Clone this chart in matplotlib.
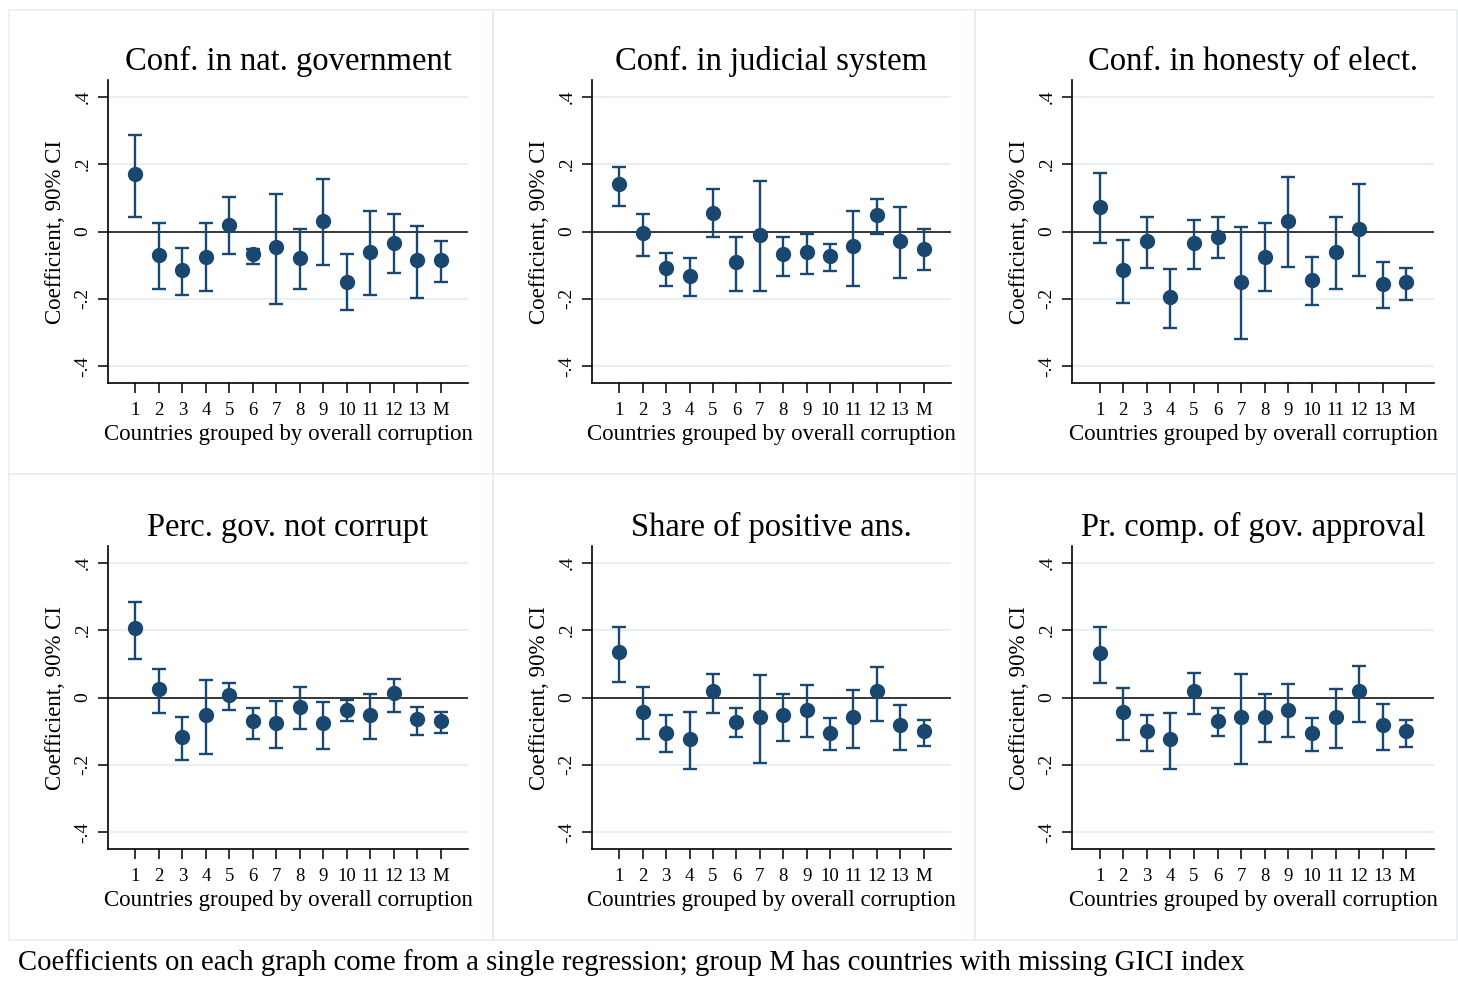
import numpy as np
import matplotlib
matplotlib.use("Agg")
import matplotlib.pyplot as plt
from matplotlib.patches import Rectangle

# groups 1..13 plus M (missing index)
groups = ["1", "2", "3", "4", "5", "6", "7", "8", "9", "10", "11", "12", "13", "M"]

titles = ["Conf. in nat. government", "Conf. in judicial system",
          "Conf. in honesty of elect.", "Perc. gov. not corrupt",
          "Share of positive ans.", "Pr. comp. of gov. approval"]

# point estimates, lower and upper 90% CI bounds
nat_gov_b = [0.171, -0.069, -0.115, -0.075, 0.020, -0.066, -0.045, -0.080, 0.031, -0.149, -0.062, -0.033, -0.086, -0.086]
nat_gov_lo = [0.044, -0.171, -0.188, -0.177, -0.068, -0.096, -0.216, -0.171, -0.100, -0.234, -0.190, -0.122, -0.198, -0.149]
nat_gov_hi = [0.287, 0.025, -0.048, 0.025, 0.101, -0.052, 0.112, 0.008, 0.157, -0.067, 0.061, 0.052, 0.015, -0.027]

judic_b = [0.141, -0.005, -0.109, -0.132, 0.055, -0.091, -0.009, -0.067, -0.062, -0.074, -0.044, 0.048, -0.027, -0.051]
judic_lo = [0.076, -0.074, -0.162, -0.193, -0.017, -0.178, -0.178, -0.131, -0.125, -0.117, -0.162, -0.008, -0.139, -0.114]
judic_hi = [0.193, 0.052, -0.063, -0.080, 0.125, -0.016, 0.149, -0.017, -0.008, -0.036, 0.062, 0.097, 0.073, 0.006]

elect_b = [0.072, -0.115, -0.027, -0.196, -0.033, -0.015, -0.149, -0.075, 0.031, -0.143, -0.062, 0.008, -0.156, -0.150]
elect_lo = [-0.033, -0.211, -0.107, -0.287, -0.112, -0.080, -0.318, -0.177, -0.104, -0.217, -0.172, -0.131, -0.228, -0.202]
elect_hi = [0.173, -0.026, 0.043, -0.110, 0.035, 0.042, 0.012, 0.025, 0.162, -0.077, 0.042, 0.141, -0.091, -0.109]

notcorr_b = [0.205, 0.024, -0.118, -0.053, 0.007, -0.071, -0.076, -0.029, -0.076, -0.036, -0.053, 0.012, -0.065, -0.071]
notcorr_lo = [0.114, -0.045, -0.185, -0.169, -0.038, -0.123, -0.150, -0.095, -0.153, -0.069, -0.123, -0.044, -0.111, -0.105]
notcorr_hi = [0.284, 0.084, -0.057, 0.051, 0.044, -0.030, -0.010, 0.031, -0.013, -0.007, 0.010, 0.055, -0.027, -0.044]

share_b = [0.136, -0.042, -0.106, -0.124, 0.018, -0.072, -0.059, -0.052, -0.037, -0.106, -0.059, 0.018, -0.082, -0.100]
share_lo = [0.046, -0.123, -0.161, -0.212, -0.047, -0.116, -0.194, -0.130, -0.117, -0.155, -0.150, -0.070, -0.156, -0.145]
share_hi = [0.210, 0.030, -0.053, -0.044, 0.071, -0.032, 0.066, 0.010, 0.037, -0.060, 0.023, 0.091, -0.022, -0.067]

approv_b = [0.131, -0.042, -0.100, -0.124, 0.018, -0.071, -0.059, -0.059, -0.036, -0.106, -0.058, 0.018, -0.081, -0.100]
approv_lo = [0.043, -0.125, -0.160, -0.213, -0.048, -0.115, -0.197, -0.132, -0.116, -0.158, -0.151, -0.072, -0.157, -0.147]
approv_hi = [0.209, 0.029, -0.052, -0.047, 0.072, -0.032, 0.070, 0.009, 0.041, -0.062, 0.025, 0.093, -0.020, -0.067]

panels = [(nat_gov_b, nat_gov_lo, nat_gov_hi), (judic_b, judic_lo, judic_hi),
          (elect_b, elect_lo, elect_hi), (notcorr_b, notcorr_lo, notcorr_hi),
          (share_b, share_lo, share_hi), (approv_b, approv_lo, approv_hi)]

yticks = [-0.4, -0.2, 0, 0.2, 0.4]
ytick_labels = ["-.4", "-.2", "0", ".2", ".4"]

navy = "#1a476f"
grid_col = "#e9f0f2"
border_col = "#e8eef0"

plt.rcParams["font.family"] = ["Liberation Serif", "DejaVu Serif"]

W, H = 1458, 1001
fig = plt.figure(figsize=(W / 100, H / 100), dpi=100)

# pixel layout of plot areas: (left, right) per column, (top, bottom) per row
cols = [(108, 468), (592, 951), (1072, 1434)]
rows = [(80, 383), (546, 849)]

# light panel outlines like a combined graph
for (x0, x1) in [(9, 493), (493, 975), (975, 1457)]:
    for (y0, y1) in [(10, 474), (474, 940)]:
        fig.patches.append(Rectangle((x0 / W, 1 - y1 / H), (x1 - x0) / W, (y1 - y0) / H,
                                     transform=fig.transFigure, fill=False,
                                     edgecolor=border_col, lw=1.2, zorder=0))

x = np.arange(1, len(groups) + 1)

for i, (b, lo, hi) in enumerate(panels):
    r, c = divmod(i, 3)
    left, right = cols[c]
    top, bot = rows[r]
    ax = fig.add_axes([left / W, 1 - bot / H, (right - left) / W, (bot - top) / H])

    b = np.array(b)
    yerr = [b - np.array(lo), np.array(hi) - b]
    for g in [-0.4, -0.2, 0.2, 0.4]:
        ax.axhline(g, color=grid_col, lw=1.6, zorder=0)
    ax.axhline(0, color="black", lw=1.1, zorder=1)
    ax.errorbar(x, b, yerr=yerr, fmt="o", color=navy, ms=10, elinewidth=1.7,
                capsize=5, capthick=1.7, zorder=3)

    ax.set_xlim(-0.17, 15.17)
    ax.set_ylim(-0.45, 0.45)
    ax.set_xticks(x)
    ax.set_xticklabels(groups, fontsize=13.5)
    ax.set_yticks(yticks)
    ax.set_yticklabels(ytick_labels, fontsize=14, rotation=90, va="center")
    ax.tick_params(axis="both", length=7, width=1.1, color="black")
    ax.tick_params(axis="x", pad=7)
    ax.tick_params(axis="y", pad=5)
    for s in ["top", "right"]:
        ax.spines[s].set_visible(False)
    for s in ["left", "bottom"]:
        ax.spines[s].set_linewidth(1.2)
    ax.set_title(titles[i], fontsize=23.5, pad=7)
    ax.set_xlabel("Countries grouped by overall corruption", fontsize=16.5, labelpad=3)
    ax.set_ylabel("Coefficient, 90% CI", fontsize=16.5, labelpad=6)

fig.text(18 / W, 1 - 963 / H,
         "Coefficients on each graph come from a single regression; group M has countries with missing GICI index",
         fontsize=20.7, ha="left", va="center")

fig.savefig("out.png", dpi=100, facecolor="white")
